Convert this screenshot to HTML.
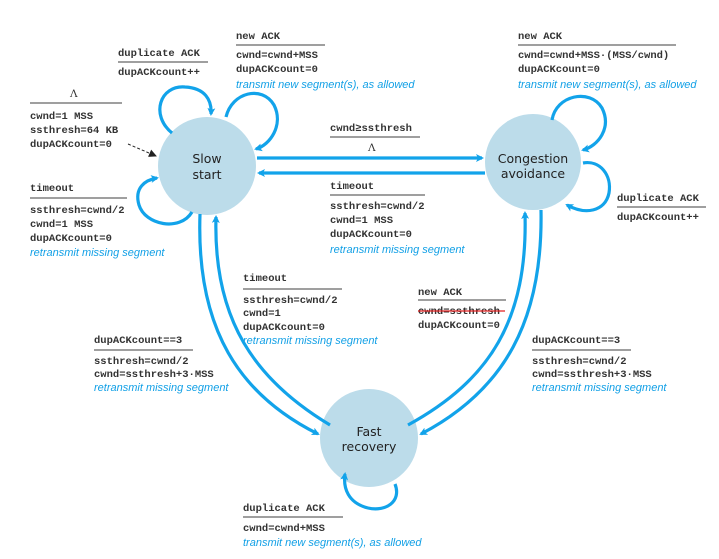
<!DOCTYPE html>
<html><head><meta charset="utf-8"><style>
html,body{margin:0;padding:0;background:#fff;}
svg{display:block;}
.m{font-family:"Liberation Mono",monospace;font-size:10.5px;fill:#333;font-weight:bold;}
.b{font-family:"Liberation Sans",sans-serif;font-size:11px;font-style:italic;fill:#12a0e6;}
.n{font-family:"DejaVu Sans","Liberation Sans",sans-serif;font-size:12.5px;fill:#222;text-anchor:middle;}
.l{stroke:#666;stroke-width:1.2;}
.a{fill:none;stroke:#12a3ea;stroke-width:3.2;}
</style></head><body>
<svg width="719" height="559" viewBox="0 0 719 559" xmlns="http://www.w3.org/2000/svg">
<defs>
<marker id="ah" markerWidth="8" markerHeight="8" refX="6" refY="4" orient="auto" markerUnits="userSpaceOnUse" viewBox="0 0 8 8">
<path d="M0,0 L8,4 L0,8 L2,4 Z" fill="#12a3ea"/></marker>
<marker id="dk" markerWidth="8" markerHeight="8" refX="7" refY="4" orient="auto" markerUnits="userSpaceOnUse" viewBox="0 0 8 8">
<path d="M0,0 L8,4 L0,8 Z" fill="#222"/></marker>
</defs>

<!-- circles -->
<circle cx="207" cy="166" r="49" fill="#bcdcea"/>
<circle cx="533" cy="162" r="48" fill="#bcdcea"/>
<circle cx="369" cy="438" r="49" fill="#bcdcea"/>
<text class="n" x="207" y="163">Slow</text><text class="n" x="207" y="179">start</text>
<text class="n" x="533" y="163">Congestion</text><text class="n" x="533" y="178">avoidance</text>
<text class="n" x="369" y="436">Fast</text><text class="n" x="369" y="451">recovery</text>

<!-- horizontal -->
<path class="a" d="M257,158 L482,158" marker-end="url(#ah)"/>
<path class="a" d="M485,173 L259,173" marker-end="url(#ah)"/>

<!-- vertical left -->
<path class="a" d="M200,214 C196,330 240,395 318,434" marker-end="url(#ah)"/>
<path class="a" d="M330,425 C255,380 213,320 216,217" marker-end="url(#ah)"/>
<!-- vertical right -->
<path class="a" d="M541,210 C543,320 505,390 421,434" marker-end="url(#ah)"/>
<path class="a" d="M408,425 C490,380 528,320 525,213" marker-end="url(#ah)"/>

<!-- self loops slow start -->
<path class="a" d="M172,133 C150,115 160,85 185,87 C205,88 212,100 211,114" marker-end="url(#ah)"/>
<path class="a" d="M226,117 C232,92 262,85 274,105 C284,125 270,145 256,149" marker-end="url(#ah)"/>
<path class="a" d="M192,212 C180,232 145,225 139,205 C134,188 145,180 157,178" marker-end="url(#ah)"/>
<!-- CA loops -->
<path class="a" d="M552,120 C556,95 590,88 602,108 C612,128 598,146 583,150" marker-end="url(#ah)"/>
<path class="a" d="M583,163 C600,160 612,175 609,193 C605,212 585,215 567,205" marker-end="url(#ah)"/>
<!-- FR loop -->
<path class="a" d="M395,484 C402,502 385,512 368,508 C348,503 343,488 345,474" marker-end="url(#ah)"/>

<!-- dashed initial -->
<path d="M128,144 L156,156" stroke="#222" stroke-width="1" stroke-dasharray="3,2" fill="none" marker-end="url(#dk)"/>

<!-- labels slow start -->
<text class="m" x="118" y="56">duplicate ACK</text><line class="l" x1="118" y1="62" x2="208" y2="62"/>
<text class="m" x="118" y="75">dupACKcount++</text>

<text class="m" x="236" y="39">new ACK</text><line class="l" x1="236" y1="45" x2="325" y2="45"/>
<text class="m" x="236" y="58">cwnd=cwnd+MSS</text>
<text class="m" x="236" y="72">dupACKcount=0</text>
<text class="b" x="236" y="88">transmit new segment(s), as allowed</text>

<text class="m" x="70" y="97" style="font-family:'DejaVu Serif',serif;font-weight:normal">Λ</text><line class="l" x1="30" y1="103" x2="122" y2="103"/>
<text class="m" x="30" y="119">cwnd=1 MSS</text>
<text class="m" x="30" y="133">ssthresh=64 KB</text>
<text class="m" x="30" y="147">dupACKcount=0</text>

<text class="m" x="30" y="191">timeout</text><line class="l" x1="30" y1="198" x2="127" y2="198"/>
<text class="m" x="30" y="213">ssthresh=cwnd/2</text>
<text class="m" x="30" y="227">cwnd=1 MSS</text>
<text class="m" x="30" y="241">dupACKcount=0</text>
<text class="b" x="30" y="256">retransmit missing segment</text>

<!-- middle -->
<text class="m" x="330" y="131">cwnd≥ssthresh</text><line class="l" x1="330" y1="137" x2="420" y2="137"/>
<text class="m" x="368" y="151" style="font-family:'DejaVu Serif',serif;font-weight:normal">Λ</text>

<text class="m" x="330" y="189">timeout</text><line class="l" x1="330" y1="195" x2="425" y2="195"/>
<text class="m" x="330" y="209">ssthresh=cwnd/2</text>
<text class="m" x="330" y="223">cwnd=1 MSS</text>
<text class="m" x="330" y="237">dupACKcount=0</text>
<text class="b" x="330" y="253">retransmit missing segment</text>

<!-- CA -->
<text class="m" x="518" y="39">new ACK</text><line class="l" x1="518" y1="45" x2="676" y2="45"/>
<text class="m" x="518" y="58">cwnd=cwnd+MSS·(MSS/cwnd)</text>
<text class="m" x="518" y="72">dupACKcount=0</text>
<text class="b" x="518" y="88">transmit new segment(s), as allowed</text>

<text class="m" x="617" y="201">duplicate ACK</text><line class="l" x1="617" y1="207" x2="706" y2="207"/>
<text class="m" x="617" y="220">dupACKcount++</text>

<!-- lower -->
<text class="m" x="243" y="281">timeout</text><line class="l" x1="243" y1="289" x2="342" y2="289"/>
<text class="m" x="243" y="303">ssthresh=cwnd/2</text>
<text class="m" x="243" y="316">cwnd=1</text>
<text class="m" x="243" y="330">dupACKcount=0</text>
<text class="b" x="243" y="344">retransmit missing segment</text>

<text class="m" x="418" y="295">new ACK</text><line class="l" x1="418" y1="300" x2="506" y2="300"/>
<text class="m" x="418" y="314">cwnd=ssthresh</text><line x1="418" y1="311" x2="505" y2="311" stroke="#e02020" stroke-width="1.3"/>
<text class="m" x="418" y="328">dupACKcount=0</text>

<text class="m" x="94" y="343">dupACKcount==3</text><line class="l" x1="94" y1="350" x2="193" y2="350"/>
<text class="m" x="94" y="364">ssthresh=cwnd/2</text>
<text class="m" x="94" y="377">cwnd=ssthresh+3·MSS</text>
<text class="b" x="94" y="391">retransmit missing segment</text>

<text class="m" x="532" y="343">dupACKcount==3</text><line class="l" x1="532" y1="350" x2="631" y2="350"/>
<text class="m" x="532" y="364">ssthresh=cwnd/2</text>
<text class="m" x="532" y="377">cwnd=ssthresh+3·MSS</text>
<text class="b" x="532" y="391">retransmit missing segment</text>

<text class="m" x="243" y="511">duplicate ACK</text><line class="l" x1="243" y1="517" x2="343" y2="517"/>
<text class="m" x="243" y="531">cwnd=cwnd+MSS</text>
<text class="b" x="243" y="546">transmit new segment(s), as allowed</text>
</svg>
</body></html>
